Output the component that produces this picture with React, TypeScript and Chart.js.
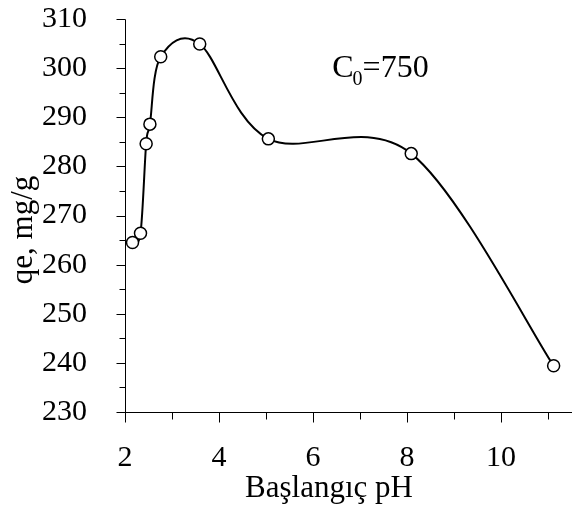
import React, { useEffect, useRef } from "react";
import { Chart, registerables } from "chart.js";

Chart.register(...registerables);

// ---- data ----
const phValues: number[] = [2.16, 2.33, 2.45, 2.53, 2.76, 3.59, 5.05, 8.09, 11.12];
const qeValues: number[] = [264.5, 266.4, 284.6, 288.6, 302.3, 304.9, 285.6, 282.6, 239.4];
const xTickLabels: number[] = [2, 4, 6, 8, 10];
const yTickLabels: number[] = [230, 240, 250, 260, 270, 280, 290, 300, 310];
const xTitle = "Başlangıç pH";
const yTitle = "qe, mg/g";
const noteMain = "C";
const noteSub = "0";
const noteRest = "=750";
const notePos = { x: 6.41, y: 298.2 };

const FONT = "'Liberation Serif', 'Times New Roman', Times, serif";

// Excel-like smoothing (Catmull-Rom style control points, 1/6 of neighbour span)
function smoothControlPoints(points: any[]) {
  const n = points.length;
  for (let i = 0; i < n; i++) {
    const p = points[i];
    const prev = points[Math.max(i - 1, 0)];
    const next = points[Math.min(i + 1, n - 1)];
    const dx = (next.x - prev.x) / 6;
    const dy = (next.y - prev.y) / 6;
    p.cp1x = p.x - dx;
    p.cp1y = p.y - dy;
    p.cp2x = p.x + dx;
    p.cp2y = p.y + dy;
  }
}

const excelPlugin = {
  id: "excelLook",
  beforeDatasetDraw(chart: any, args: any) {
    const meta = chart.getDatasetMeta(args.index);
    if (meta && meta.dataset && meta.data) {
      smoothControlPoints(meta.data);
      meta.dataset._pointsUpdated = true;
      meta.dataset._path = undefined;
    }
  },
  beforeDatasetsDraw(chart: any) {
    const { ctx, chartArea, scales } = chart;
    const xs = scales.x;
    const ys = scales.y;
    const L = Math.round(chartArea.left) + 0.5;
    const B = Math.round(chartArea.bottom) + 0.5;
    const T = Math.round(chartArea.top) + 0.5;
    const R = Math.round(chartArea.right);
    ctx.save();
    ctx.strokeStyle = "#000";
    ctx.lineWidth = 1;
    ctx.beginPath();
    ctx.moveTo(L, T);
    ctx.lineTo(L, B);
    ctx.moveTo(L - 0.5, B);
    ctx.lineTo(R, B);
    for (let v = Math.ceil(xs.min); v <= xs.max; v += 1) {
      const px = Math.round(xs.getPixelForValue(v)) + 0.5;
      const len = v % 2 === 0 ? 10 : 7;
      ctx.moveTo(px, B);
      ctx.lineTo(px, B + len);
    }
    for (let v = ys.min; v <= ys.max; v += 5) {
      const py = Math.round(ys.getPixelForValue(v)) + 0.5;
      const len = v % 10 === 0 ? 9 : 6;
      ctx.moveTo(L, py);
      ctx.lineTo(L - len, py);
    }
    ctx.stroke();
    ctx.restore();
  },
  afterDraw(chart: any) {
    const { ctx, scales } = chart;
    ctx.save();
    ctx.fillStyle = "#000";
    ctx.font = `31px ${FONT}`;
    ctx.textAlign = "center";
    ctx.textBaseline = "alphabetic";
    ctx.fillText(xTitle, 329, 497);
    ctx.save();
    ctx.translate(32, 230);
    ctx.rotate(-Math.PI / 2);
    ctx.fillText(yTitle, 0, 0);
    ctx.restore();
    const ax = scales.x.getPixelForValue(notePos.x);
    const ay = scales.y.getPixelForValue(notePos.y);
    ctx.textAlign = "left";
    ctx.font = `32px ${FONT}`;
    ctx.fillText(noteMain, ax, ay);
    let w = ctx.measureText(noteMain).width;
    ctx.font = `20px ${FONT}`;
    ctx.fillText(noteSub, ax + w - 1, ay + 8);
    w += ctx.measureText(noteSub).width - 1;
    ctx.font = `32px ${FONT}`;
    ctx.fillText(noteRest, ax + w, ay);
    ctx.restore();
  },
};

export default function App() {
  const ref = useRef<HTMLCanvasElement | null>(null);
  useEffect(() => {
    if (!ref.current) return;
    const chart = new Chart(ref.current, {
      type: "line",
      data: {
        datasets: [
          {
            data: phValues.map((x, i) => ({ x, y: qeValues[i] })),
            borderColor: "#000",
            borderWidth: 2,
            tension: 0.4,
            pointRadius: 6,
            pointBorderWidth: 1.5,
            pointBackgroundColor: "#fff",
            pointBorderColor: "#000",
            fill: false,
          },
        ],
      },
      options: {
        animation: false,
        responsive: false,
        layout: { padding: { left: 0, top: 19, right: 6, bottom: 0 } },
        plugins: { legend: { display: false }, tooltip: { enabled: false } },
        scales: {
          x: {
            type: "linear",
            min: 2,
            max: 11.5,
            grid: { display: false },
            border: { display: false },
            ticks: {
              stepSize: 2,
              includeBounds: false,
              padding: 20,
              color: "#000",
              font: { family: FONT, size: 30 },
              maxRotation: 0,
              callback: (v: any) => (xTickLabels.includes(Number(v)) ? String(v) : ""),
            },
            afterFit: (s: any) => {
              s.height = 98;
              s.paddingLeft = 0;
              s.paddingRight = 0;
            },
          },
          y: {
            type: "linear",
            min: yTickLabels[0],
            max: yTickLabels[yTickLabels.length - 1],
            grid: { display: false },
            border: { display: false },
            ticks: {
              stepSize: 10,
              padding: 30,
              color: "#000",
              font: { family: FONT, size: 30 },
              callback: (v: any) => (yTickLabels.includes(Number(v)) ? String(v) : ""),
            },
            afterFit: (s: any) => {
              s.width = 125;
              s.paddingTop = 0;
              s.paddingBottom = 0;
            },
          },
        },
      },
      plugins: [excelPlugin],
    });
    return () => chart.destroy();
  }, []);
  return (
    <div style={{ position: "fixed", left: 0, top: 0, width: 579, height: 510, background: "#fff" }}>
      <canvas ref={ref} width={579} height={510} style={{ display: "block" }} />
    </div>
  );
}
